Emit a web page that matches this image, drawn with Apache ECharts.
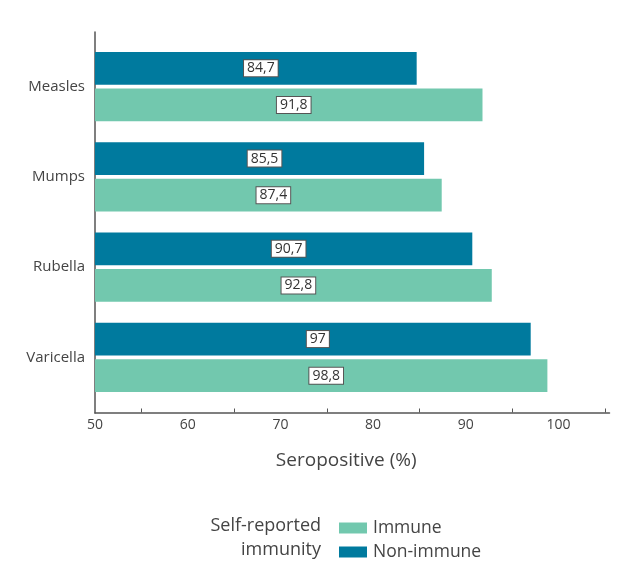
<!DOCTYPE html>
<html>
<head>
<meta charset="utf-8">
<script src="https://cdn.jsdelivr.net/npm/echarts@6/dist/echarts.min.js"></script>
<style>html,body{margin:0;padding:0;background:#fff;}#c{width:632px;height:577px;}</style>
</head>
<body>
<div id="c"></div>
<script>
const categories = ['Measles', 'Mumps', 'Rubella', 'Varicella'];
const nonImmune = [84.7, 85.5, 90.7, 97];
const immune = [91.8, 87.4, 92.8, 98.8];
const xLabelValues = [50, 60, 70, 80, 90, 100];
const xTickValues = [55, 65, 75, 85, 95, 105];

const FONT = '"Open Sans", "Noto Sans", sans-serif';
const chart = echarts.init(document.getElementById('c'));
const labelCfg = {
  show: true,
  position: 'inside',
  offset: [5, 0],
  formatter: p => String(p.value).replace('.', ','),
  color: '#333',
  fontFamily: FONT,
  fontSize: 14,
  backgroundColor: '#fff',
  borderColor: '#555',
  borderWidth: 1,
  padding: [1, 3, 1, 3]
};
chart.setOption({
  animation: false,
  textStyle: { fontFamily: FONT },
  grid: [
    { left: 95, right: 22.5, top: 41.5, bottom: 174.5 },
    { left: 95, right: 22.5, top: 32, bottom: 164 }
  ],
  xAxis: [
    {
      type: 'value', gridIndex: 0, min: 50, max: 105.5, offset: 10,
      name: 'Seropositive (%)', nameLocation: 'middle', nameGap: 39,
      nameTextStyle: { fontSize: 19, color: '#444', fontFamily: FONT, padding: [0, 12, 0, 0] },
      axisLine: { show: true, lineStyle: { color: '#555', width: 1.5 } },
      axisTick: { show: true, customValues: xTickValues, length: 4, inside: true, lineStyle: { color: '#555' } },
      axisLabel: { customValues: xLabelValues, color: '#444', fontSize: 14, margin: 6, fontFamily: FONT },
      splitLine: { show: false }
    },
    { type: 'value', gridIndex: 1, show: false }
  ],
  yAxis: [
    {
      type: 'category', gridIndex: 0, data: categories, inverse: true,
      axisLine: { show: false }, axisTick: { show: false },
      axisLabel: { color: '#444', fontSize: 15, margin: 10, fontFamily: FONT }
    },
    {
      type: 'value', gridIndex: 1, min: 0, max: 1,
      axisLine: { show: true, lineStyle: { color: '#555', width: 1.5 } },
      axisTick: { show: false }, axisLabel: { show: false }, splitLine: { show: false }
    }
  ],
  legend: {
    orient: 'vertical', left: 334, top: 513,
    data: ['Immune', 'Non-immune'],
    itemWidth: 28, itemHeight: 11, itemGap: 4,
    icon: 'rect',
    textStyle: { fontSize: 17.5, color: '#444', fontFamily: FONT, lineHeight: 20, padding: [0, 0, 0, 1] }
  },
  graphic: [{
    type: 'text', x: 321, y: 514,
    style: {
      text: 'Self-reported\nimmunity', align: 'right', verticalAlign: 'top',
      fontSize: 18, lineHeight: 24, fill: '#444', fontFamily: FONT
    }
  }],
  series: [
    {
      name: 'Non-immune', type: 'bar', data: nonImmune,
      xAxisIndex: 0, yAxisIndex: 0,
      barWidth: 32.7, barGap: '12%',
      itemStyle: { color: '#007A9E' }, label: labelCfg
    },
    {
      name: 'Immune', type: 'bar', data: immune,
      xAxisIndex: 0, yAxisIndex: 0,
      barWidth: 32.7, barGap: '12%',
      itemStyle: { color: '#72C8AE' }, label: labelCfg
    }
  ]
});
</script>
</body>
</html>
